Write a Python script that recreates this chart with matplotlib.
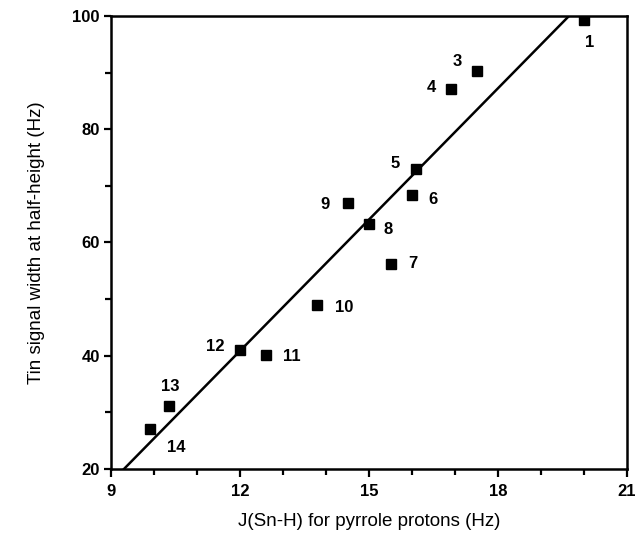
import numpy as np
from matplotlib import pyplot as plt
from matplotlib.ticker import MultipleLocator

plt.rcParams['font.family'] = ['Liberation Sans', 'DejaVu Sans']

# compound number, J(Sn-H) and tin line width
labels = ['1', '3', '4', '5', '6', '9', '8', '7', '10', '12', '11', '13', '14']
j_snh = [20.0, 17.5, 16.9, 16.1, 16.0, 14.5, 15.0, 15.5, 13.8, 12.0, 12.6, 10.35, 9.9]
width = [99.3, 90.3, 87.1, 73.0, 68.3, 67.0, 63.2, 56.2, 49.0, 41.1, 40.1, 31.1, 27.0]

# label offsets (points) from each marker
offsets = [(4, -16), (-14, 7), (-14, 1), (-15, 4), (15, -3), (-16, -1), (14, -4),
           (16, 0), (19, -2), (-18, 2), (19, -1), (1, 14), (19, -13)]

# straight line drawn through the points
fit_slope = 7.73
fit_intercept = -51.9

fig = plt.figure(figsize=(6.36, 5.49), dpi=100)
ax = fig.add_axes([0.1745, 0.1457, 0.8115, 0.8253])

xs = np.array([8.0, 22.0])
ax.plot(xs, fit_slope * xs + fit_intercept, color='black', lw=1.8, zorder=2)
ax.plot(j_snh, width, 's', color='black', markersize=6.5, zorder=3)

for lab, x, y, off in zip(labels, j_snh, width, offsets):
    ax.annotate(lab, (x, y), xytext=off, textcoords='offset points',
                ha='center', va='center', fontsize=12, fontweight='bold')

ax.set_xlim(9, 21)
ax.set_ylim(20, 100)
ax.xaxis.set_major_locator(MultipleLocator(3))
ax.xaxis.set_minor_locator(MultipleLocator(1))
ax.yaxis.set_major_locator(MultipleLocator(20))
ax.yaxis.set_minor_locator(MultipleLocator(10))
ax.tick_params(which='both', direction='out', width=1.6, labelsize=12)
ax.tick_params(axis='x', which='major', length=6, pad=5)
ax.tick_params(axis='x', which='minor', length=4)
ax.tick_params(axis='y', which='major', length=5, pad=3)
ax.tick_params(axis='y', which='minor', length=4)
for t in ax.get_xticklabels() + ax.get_yticklabels():
    t.set_fontweight('bold')
for s in ax.spines.values():
    s.set_linewidth(1.8)

ax.set_xlabel('J(Sn-H) for pyrrole protons (Hz)', fontsize=13.5, labelpad=10)
ax.set_ylabel('Tin signal width at half-height (Hz)', fontsize=13.5, labelpad=20)

fig.savefig('out.png', dpi=100)
